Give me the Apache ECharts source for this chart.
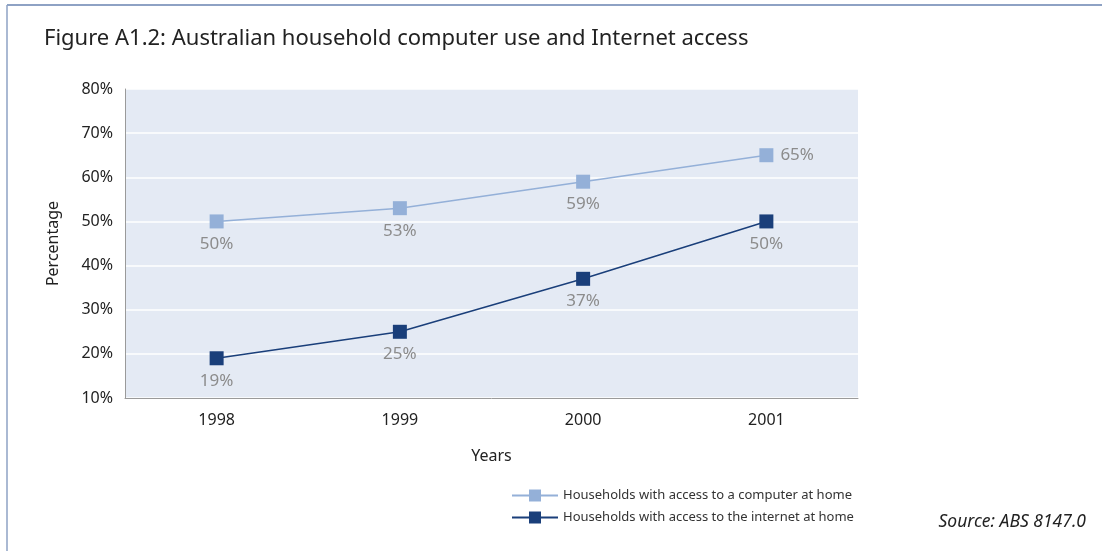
<!DOCTYPE html>
<html><head><meta charset="utf-8">
<script src="https://cdn.jsdelivr.net/npm/echarts@6/dist/echarts.min.js"></script>
<style>html,body{margin:0;padding:0;background:#fff}#c{width:1102px;height:551px}</style>
</head><body><div id="c"></div>
<script>
const years = ['1998', '1999', '2000', '2001'];
const computerValues = [50, 53, 59, 65];
const internetValues = [19, 25, 37, 50];
const computerLabelPos = ['bottom', 'bottom', 'bottom', 'right'];
const internetLabelPos = ['bottom', 'bottom', 'bottom', 'bottom'];
const seriesNames = ['Households with access to a computer at home', 'Households with access to the internet at home'];

const FONT = 'Noto Sans';
const chart = echarts.init(document.getElementById('c'), null, {renderer: 'canvas'});
function mk(vals, pos) {
  return vals.map((v, i) => ({value: v, label: {position: pos[i]}}));
}
const lbl = {show: true, formatter: '{c}%', color: '#8c8c8c', fontSize: 17, fontFamily: FONT, distance: 7};
chart.setOption({
  animation: false,
  backgroundColor: '#fff',
  title: {
    text: 'Figure A1.2: Australian household computer use and Internet access',
    left: 39, top: 23,
    textStyle: {fontFamily: FONT, fontSize: 22, fontWeight: 'normal', color: '#222'}
  },
  graphic: [
    {type: 'line', shape: {x1: 7, y1: 5, x2: 1102, y2: 5}, style: {stroke: '#8ea2c4', lineWidth: 2}},
    {type: 'line', shape: {x1: 7, y1: 5, x2: 7, y2: 551}, style: {stroke: '#8ea2c4', lineWidth: 1.5}},
    {type: 'text', right: 16, top: 513, style: {text: 'Source: ABS 8147.0', font: 'italic 17.5px "' + FONT + '"', fill: '#222'}}
  ],
  legend: {
    orient: 'vertical', left: 506, top: 484, itemGap: 9,
    itemWidth: 46, itemHeight: 15,
    textStyle: {fontFamily: FONT, fontSize: 13, color: '#333'},
    data: seriesNames
  },
  grid: {left: 125, right: 244, top: 89, bottom: 153, show: true, backgroundColor: '#e4eaf4', borderWidth: 0},
  xAxis: {
    type: 'category', data: years, boundaryGap: true,
    name: 'Years', nameLocation: 'middle', nameGap: 50,
    nameTextStyle: {fontFamily: FONT, fontSize: 16, color: '#222'},
    axisLine: {show: true, lineStyle: {color: '#9a9a9a'}},
    axisTick: {show: false},
    axisLabel: {fontFamily: FONT, fontSize: 16, color: '#222', margin: 14},
    splitLine: {show: false}
  },
  yAxis: {
    type: 'value', min: 10, max: 80, interval: 10,
    name: 'Percentage', nameLocation: 'middle', nameGap: 64, nameRotate: 90,
    nameTextStyle: {fontFamily: FONT, fontSize: 16, color: '#222'},
    axisLine: {show: true, lineStyle: {color: '#9a9a9a'}},
    axisTick: {show: false},
    axisLabel: {fontFamily: FONT, fontSize: 16, color: '#222', formatter: '{value}%', margin: 12},
    splitLine: {show: true, lineStyle: {color: '#ffffff', width: 1.5}}
  },
  series: [
    {
      name: seriesNames[0], type: 'line', data: mk(computerValues, computerLabelPos),
      symbol: 'rect', symbolSize: 14, color: '#94b0d8',
      lineStyle: {color: '#94b0d8', width: 1.5}, itemStyle: {color: '#94b0d8'},
      label: lbl
    },
    {
      name: seriesNames[1], type: 'line', data: mk(internetValues, internetLabelPos),
      symbol: 'rect', symbolSize: 14, color: '#1a3f7a',
      lineStyle: {color: '#1a3f7a', width: 1.5}, itemStyle: {color: '#1a3f7a'},
      label: lbl
    }
  ]
});
</script></body></html>
